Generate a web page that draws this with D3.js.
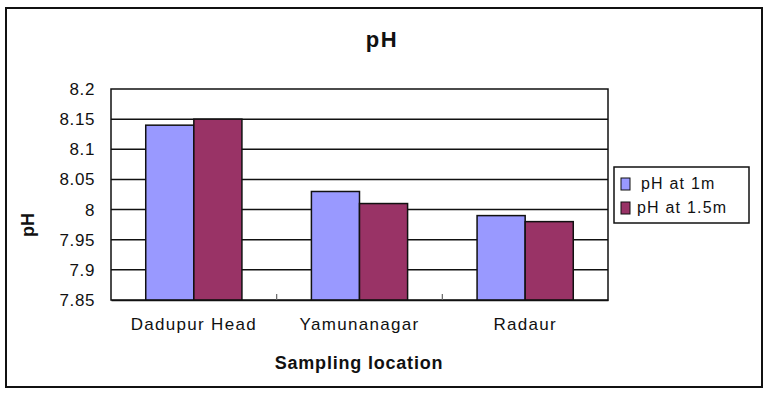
<!DOCTYPE html>
<html><head><meta charset="utf-8">
<script src="https://cdn.jsdelivr.net/npm/d3@7/dist/d3.min.js"></script>
<style>
html,body{margin:0;padding:0;background:#fff;}
text{font-family:"Liberation Sans",Arial,sans-serif;fill:#111;}
</style></head>
<body>
<svg id="chart" width="768" height="395"></svg>
<script>
const categories = ["Dadupur Head", "Yamunanagar", "Radaur"];
const seriesNames = ["pH at 1m", "pH at 1.5m"];
const ph1m = [8.14, 8.03, 7.99];
const ph15m = [8.15, 8.01, 7.98];
const yTicks = [7.85, 7.9, 7.95, 8, 8.05, 8.1, 8.15, 8.2];
const colors = ["#9999FF", "#993366"];

const svg = d3.select("#chart");
const plot = {left: 111, right: 608, top: 89, bottom: 300};

// outer frame
svg.append("rect").attr("x", 6).attr("y", 8).attr("width", 756).attr("height", 379)
  .attr("fill", "#fff").attr("stroke", "#111").attr("stroke-width", 2);

const y = d3.scaleLinear().domain([7.85, 8.2]).range([plot.bottom, plot.top]);
const x0 = d3.scaleBand().domain(categories).range([plot.left, plot.right])
  .paddingInner(0.4194).paddingOuter(0.2097);
const x1 = d3.scaleBand().domain(seriesNames).range([0, x0.bandwidth()]);

// gridlines
svg.append("g").selectAll("line").data(yTicks.slice(1, -1)).join("line")
  .attr("x1", plot.left).attr("x2", plot.right)
  .attr("y1", d => y(d)).attr("y2", d => y(d))
  .attr("stroke", "#111").attr("stroke-width", 1.5);

// plot border
svg.append("rect").attr("x", plot.left).attr("y", plot.top)
  .attr("width", plot.right - plot.left).attr("height", plot.bottom - plot.top)
  .attr("fill", "none").attr("stroke", "#111").attr("stroke-width", 1.5);

// bars
const rows = categories.map((c, i) => ({cat: c, vals: [ph1m[i], ph15m[i]]}));
const g = svg.append("g").selectAll("g").data(rows).join("g")
  .attr("transform", d => `translate(${x0(d.cat)},0)`);
g.selectAll("rect").data(d => d.vals.map((v, j) => ({s: seriesNames[j], v, j}))).join("rect")
  .attr("x", d => x1(d.s)).attr("width", x1.bandwidth())
  .attr("y", d => y(d.v)).attr("height", d => plot.bottom - y(d.v))
  .attr("fill", d => colors[d.j]).attr("stroke", "#111").attr("stroke-width", 1.5);

// y axis
const yAxis = svg.append("g").attr("transform", `translate(${plot.left},0)`)
  .call(d3.axisLeft(y).tickValues(yTicks).tickSize(0).tickPadding(16).tickFormat(d3.format("")));
yAxis.select(".domain").remove();
yAxis.selectAll("text").style("font-size", "17px").style("letter-spacing", "0.6px").attr("fill", "#222");

// x axis
const xAxis = svg.append("g").attr("transform", `translate(0,${plot.bottom})`)
  .call(d3.axisBottom(x0).tickSize(0).tickPadding(18));
xAxis.select(".domain").attr("stroke", "#111").attr("stroke-width", 1.5);
xAxis.selectAll("text").style("font-size", "17px").style("letter-spacing", "1.3px").attr("fill", "#222");
// inner tick marks at category boundaries
const bounds = [1, 2].map(k => plot.left + k * (plot.right - plot.left) / categories.length);
svg.append("g").selectAll("line").data(bounds).join("line")
  .attr("x1", d => d).attr("x2", d => d).attr("y1", plot.bottom - 6).attr("y2", plot.bottom)
  .attr("stroke", "#666").attr("stroke-width", 1.2);

// title
svg.append("text").attr("x", 382).attr("y", 47).attr("text-anchor", "middle")
  .style("font-size", "22px").style("font-weight", "bold").style("letter-spacing", "1.5px").text("pH");
// axis titles
svg.append("text").attr("x", 359).attr("y", 369).attr("text-anchor", "middle")
  .style("font-size", "18px").style("font-weight", "bold").style("letter-spacing", "0.8px").text("Sampling location");
svg.append("text").attr("transform", "translate(34,225) rotate(-90)").attr("text-anchor", "middle")
  .style("font-size", "18px").style("font-weight", "bold").text("pH");

// legend
const lg = svg.append("g");
lg.append("rect").attr("x", 614).attr("y", 167).attr("width", 135).attr("height", 56)
  .attr("fill", "#fff").attr("stroke", "#111").attr("stroke-width", 1.5);
const items = lg.selectAll("g").data(seriesNames).join("g")
  .attr("transform", (d, i) => `translate(621,${178 + i * 24})`);
items.append("rect").attr("width", 9).attr("height", 12)
  .attr("fill", (d, i) => colors[i]).attr("stroke", "#111").attr("stroke-width", 1);
items.append("text").attr("x", (d, i) => i === 0 ? 20 : 16).attr("y", 11)
  .style("font-size", "16px").style("letter-spacing", "1.2px").attr("fill", "#222").text(d => d);
</script>
</body></html>
